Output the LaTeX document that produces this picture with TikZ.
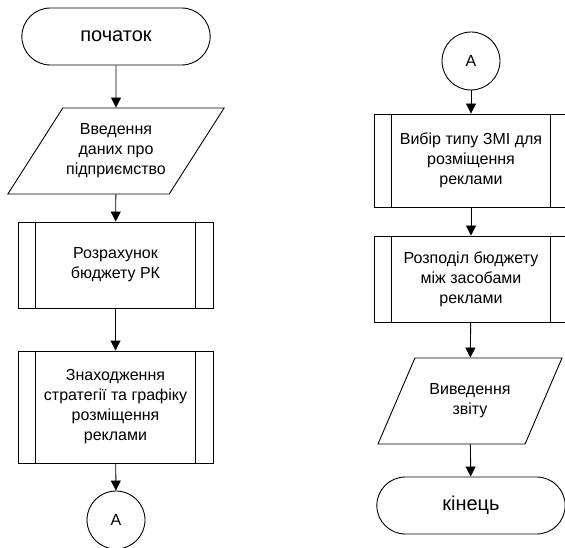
\documentclass[tikz,border=0pt]{standalone}
\usepackage{fontspec}
\setmainfont{Liberation Sans}
\usetikzlibrary{shapes.misc,shapes.geometric,arrows.meta}

\tikzset{
	term/.style={rounded rectangle, draw, minimum width=195pt, minimum height=57pt, font=\fontsize{20}{24}\selectfont},
	inout/.style={trapezium, trapezium left angle=48, trapezium right angle=132, trapezium stretches body, draw, minimum height=86pt, align=center},
	subproc/.style={rectangle, draw, minimum width=195pt, align=center,
		path picture={
			\draw ([xshift=17.5pt]path picture bounding box.north west) -- ([xshift=17.5pt]path picture bounding box.south west);
			\draw ([xshift=-17.5pt]path picture bounding box.north east) -- ([xshift=-17.5pt]path picture bounding box.south east);
		}},
	conn/.style={circle, draw, minimum size=58pt, inner sep=0pt},
	arr/.style={-{Triangle[length=10pt,width=10pt]}},
}

\begin{document}
\begin{tikzpicture}[x=1pt, y=-1pt, line width=0.9pt, font=\fontsize{16}{20}\selectfont]
		\useasboundingbox (0, 0) rectangle (565, 548);
		% left column
		\node[term] (start) at (116, 36.5) {початок};
		\node[inout, minimum width=214pt] (input) at (116, 151) {Введення\\даних про\\підприємство};
		\node[subproc, minimum height=86pt] (budget) at (115.5, 265) {Розрахунок\\бюджету РК};
		\node[subproc, minimum height=112pt] (strategy) at (115.5, 407) {Знаходження\\стратегії та графіку\\розміщення\\реклами};
		\node[conn] (conA) at (116, 520) {A};
		% right column
		\node[conn] (conB) at (471, 61) {A};
		\node[subproc, minimum width=194pt, minimum height=93pt] (media) at (471, 160.5) {Вибір типу ЗМІ для\\розміщення\\реклами};
		\node[subproc, minimum width=194pt, minimum height=86pt] (split) at (471, 279) {Розподіл бюджету\\між засобами\\реклами};
		\node[inout, minimum width=184pt] (output) at (470, 401) {Виведення\\звіту};
		\node[term] (stop) at (471, 505.5) {кінець};
		% arrows
		\draw[arr] (start) -- (input);
		\draw[arr] (input) -- (budget);
		\draw[arr] (budget) -- (strategy);
		\draw[arr] (strategy) -- (conA);
		\draw[arr] (conB) -- (media);
		\draw[arr] (media) -- (split);
		\draw[arr] (split) -- (output);
		\draw[arr] (output) -- (stop);
	\end{tikzpicture}
\end{document}
